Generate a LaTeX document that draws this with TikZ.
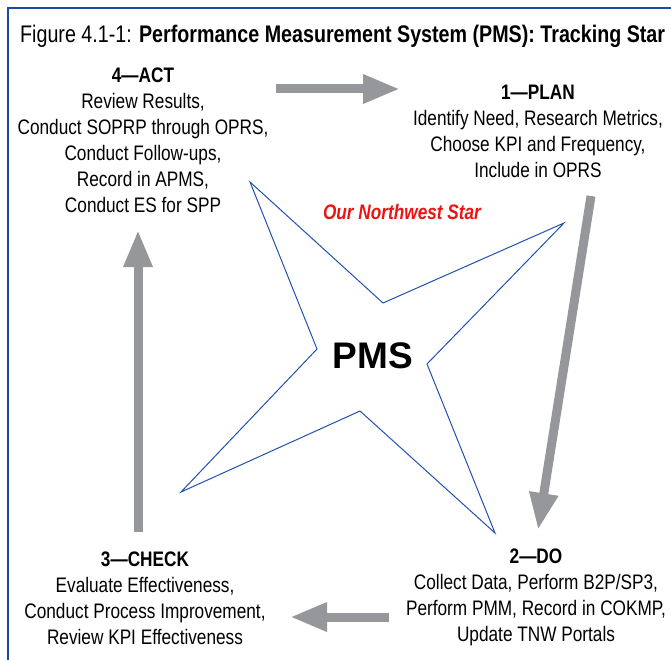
\documentclass[tikz,border=0pt]{standalone}
\usepackage{fontspec}
\setmainfont{Liberation Sans}[FakeStretch=0.82]
\newfontfamily\widesans{Liberation Sans}
\usetikzlibrary{arrows.meta}
\definecolor{frameblue}{RGB}{30,72,165}
\definecolor{starblue}{RGB}{35,80,175}
\definecolor{arrowgray}{RGB}{150,151,155}
\definecolor{starred}{RGB}{235,20,20}
\tikzset{
  bigarrow/.style={line width=9pt, color=arrowgray, -{Triangle[length=37pt,width=27pt]}},
  stepblock/.style={align=center, inner sep=0pt, anchor=north, font=\fontsize{21}{26}\selectfont},
}

\begin{document}
\begin{tikzpicture}[x=1pt,y=-1pt]
		%%%%% START %%%%%
		\useasboundingbox (0,0) rectangle (671,660);
		
		\draw[line width=2.5pt, color=frameblue] (8,675) -- (8,8) -- (680,8);
		
		\node[anchor=west, inner sep=0pt, font=\fontsize{24}{28}\selectfont] (title) at (20,36)
			{Figure 4.1-1: \textbf{Performance Measurement System (PMS): Tracking Star}};
		
		\draw[line width=1pt, color=starblue] (250,182) -- (383,303) -- (564,223) -- (427,364)
			-- (495,533) -- (360,411) -- (181,492) -- (317,349) -- cycle;
		
		\node[font=\widesans\fontsize{37}{40}\selectfont\bfseries] (pms) at (373,356) {PMS};
		\node[text=starred, font=\fontsize{21}{24}\selectfont\bfseries\itshape] (northstar) at (402,212) {Our Northwest Star};
		
		\node[stepblock] (act) at (143,68) {\textbf{4—ACT}\\Review Results,\\Conduct SOPRP through OPRS,\\Conduct Follow-ups,\\Record in APMS,\\Conduct ES for SPP};
		\node[stepblock] (plan) at (538,85) {\textbf{1—PLAN}\\Identify Need, Research Metrics,\\Choose KPI and Frequency,\\Include in OPRS};
		\node[stepblock] (do) at (536,549) {\textbf{2—DO}\\Collect Data, Perform B2P/SP3,\\Perform PMM, Record in COKMP,\\Update TNW Portals};
		\node[stepblock] (check) at (145,552) {\textbf{3—CHECK}\\Evaluate Effectiveness,\\Conduct Process Improvement,\\Review KPI Effectiveness};
		
		\coordinate (act-out) at (276,89);
		\coordinate (plan-in) at (400,89);
		\coordinate (plan-out) at (591,196);
		\coordinate (do-in) at (538,530);
		\coordinate (do-out) at (389,617);
		\coordinate (check-in) at (290,617);
		\coordinate (check-out) at (138,532);
		\coordinate (act-in) at (138,230);
		
		\draw[bigarrow] (act-out) -- (plan-in);
		\draw[bigarrow] (plan-out) -- (do-in);
		\draw[bigarrow] (do-out) -- (check-in);
		\draw[bigarrow] (check-out) -- (act-in);
		
		%%%%% END %%%%%
\end{tikzpicture}
\end{document}
